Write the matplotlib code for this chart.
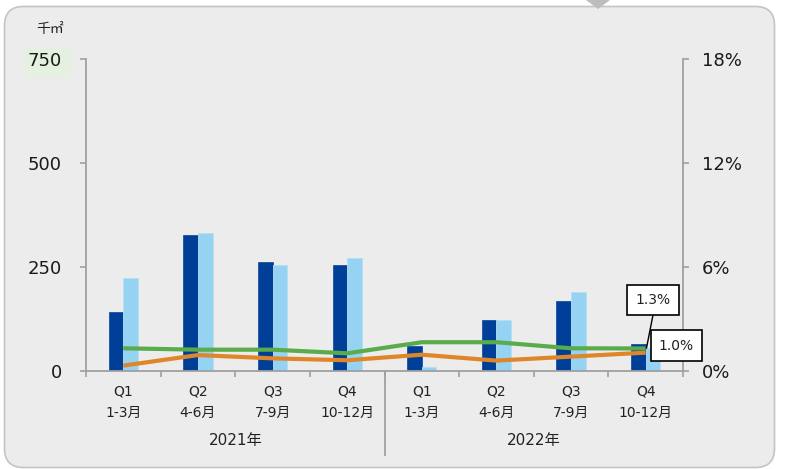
import matplotlib
matplotlib.use("Agg")
import matplotlib.pyplot as plt
from matplotlib.patches import FancyBboxPatch, Rectangle, Polygon
from matplotlib.lines import Line2D
import matplotlib.transforms as mtransforms

plt.rcParams['font.family'] = ['DejaVu Sans', 'Noto Sans CJK JP']

# ---- data ----
quarters = ["Q1", "Q2", "Q3", "Q4", "Q1", "Q2", "Q3", "Q4"]
months = ["1-3月", "4-6月", "7-9月", "10-12月", "1-3月", "4-6月", "7-9月", "10-12月"]
years = ["2021年", "2022年"]
dark_bars = [141, 327, 262, 255, 60, 123, 169, 65]
light_bars = [223, 331, 256, 272, 9, 122, 190, 55]
green_line = [1.31, 1.23, 1.23, 1.02, 1.66, 1.66, 1.31, 1.30]
orange_line = [0.31, 0.92, 0.73, 0.62, 0.94, 0.60, 0.83, 1.06]
left_ticks = [0, 250, 500, 750]
right_ticks = [0, 6, 12, 18]
unit_label = "千㎡"
label_green = "1.3%"
label_orange = "1.0%"

W, H = 791, 469
fig = plt.figure(figsize=(W / 100, H / 100), dpi=100, facecolor="white")

def fx(x):
    return x / W

def fy(y):
    return 1 - y / H

# background panel
panel = FancyBboxPatch((fx(4.5), fy(467.5)), fx(770), 461 / H,
                       boxstyle="round,pad=0,rounding_size=0.024",
                       transform=fig.transFigure, facecolor="#ececec",
                       edgecolor="#c4c4c4", linewidth=1.2, mutation_aspect=W / H,
                       zorder=-10)
fig.patches.append(panel)
tri = Polygon([(fx(586), fy(0)), (fx(610), fy(0)), (fx(598), fy(9))], closed=True,
              transform=fig.transFigure, facecolor="#bdbdbd", edgecolor="none",
              zorder=-9)
fig.patches.append(tri)
# highlight behind 750
hl = Rectangle((fx(25), fy(77)), fx(46), 30 / H, transform=fig.transFigure,
               facecolor="#e4f1e0", edgecolor="none", zorder=-9)
fig.patches.append(hl)

ax = fig.add_axes([fx(86), fy(371), fx(683 - 86), (371 - 59) / H])
ax.set_facecolor("none")
ax2 = ax.twinx()
ax2.set_facecolor("none")

n = len(quarters)
xs = list(range(n))
bw = 0.196
ax.bar([x - bw / 2 for x in xs], dark_bars, width=bw, color="#003f98",
       edgecolor="#1a52a3", linewidth=0.6, zorder=2)
ax.bar([x + bw / 2 for x in xs], light_bars, width=bw, color="#96d3f2",
       edgecolor="#b5e0f6", linewidth=0.6, zorder=2)

ax2.plot(xs, green_line, color="#5aab4c", linewidth=3.0, zorder=3, solid_capstyle="butt")
ax2.plot(xs, orange_line, color="#e0862a", linewidth=3.0, zorder=3, solid_capstyle="butt")

ax.set_xlim(-0.5, n - 0.5)
ax.set_ylim(0, 750)
ax2.set_ylim(0, 18)
ax.set_yticks(left_ticks)
ax.set_yticklabels([str(v) for v in left_ticks])
ax2.set_yticks(right_ticks)
ax2.set_yticklabels([f"{v}%" for v in right_ticks])

spine_c = "#a0a0a0"
for a in (ax, ax2):
    for s in a.spines.values():
        s.set_visible(False)
ax.spines["left"].set_visible(True)
ax.spines["bottom"].set_visible(True)
ax2.spines["right"].set_visible(True)
for s in (ax.spines["left"], ax.spines["bottom"], ax2.spines["right"]):
    s.set_color(spine_c)
    s.set_linewidth(1.3)

ax.tick_params(axis="y", length=4.5, width=1.2, color=spine_c, labelsize=13,
               labelcolor="#1a1a1a", pad=13)
ax2.tick_params(axis="y", length=4.5, width=1.2, color=spine_c, labelsize=13,
                labelcolor="#1a1a1a", pad=9)
ax.set_xticks([x + 0.5 for x in range(-1, n)])
ax.set_xticklabels([])
ax.tick_params(axis="x", length=4, width=1.2, color=spine_c)

# category labels
trans = mtransforms.blended_transform_factory(ax.transData, fig.transFigure)
for i in xs:
    ax.text(i, fy(391.5), quarters[i], transform=trans, ha="center", va="center",
            fontsize=10, color="#222222")
    ax.text(i, fy(412.5), months[i], transform=trans, ha="center", va="center",
            fontsize=10, color="#222222")
ax.text(1.5, fy(440), years[0], transform=trans, ha="center", va="center",
        fontsize=11, color="#222222")
ax.text(5.5, fy(440), years[1], transform=trans, ha="center", va="center",
        fontsize=11, color="#222222")
sep = Line2D([3.5, 3.5], [fy(371), fy(455)], transform=trans, color=spine_c,
             linewidth=1.3, clip_on=False)
ax.add_line(sep)

# unit label
fig.text(fx(50), fy(29.5), unit_label, ha="center", va="center", fontsize=10,
         color="#222222", family=['Noto Sans CJK JP', 'DejaVu Sans'])

# data labels
leader = Line2D([fx(653), fx(646.5)], [fy(315), fy(348)], transform=fig.transFigure,
                color="black", linewidth=1.0)
fig.lines.append(leader)
fig.text(fx(653), fy(300), label_green, ha="center", va="center", fontsize=10,
         color="#222222",
         bbox=dict(boxstyle="square,pad=0.6", facecolor="white", edgecolor="black",
                   linewidth=1.2))
fig.text(fx(676.5), fy(345.5), label_orange, ha="center", va="center", fontsize=10,
         color="#222222",
         bbox=dict(boxstyle="square,pad=0.6", facecolor="white", edgecolor="black",
                   linewidth=1.2))

fig.savefig("out.png", dpi=100, facecolor="white")
